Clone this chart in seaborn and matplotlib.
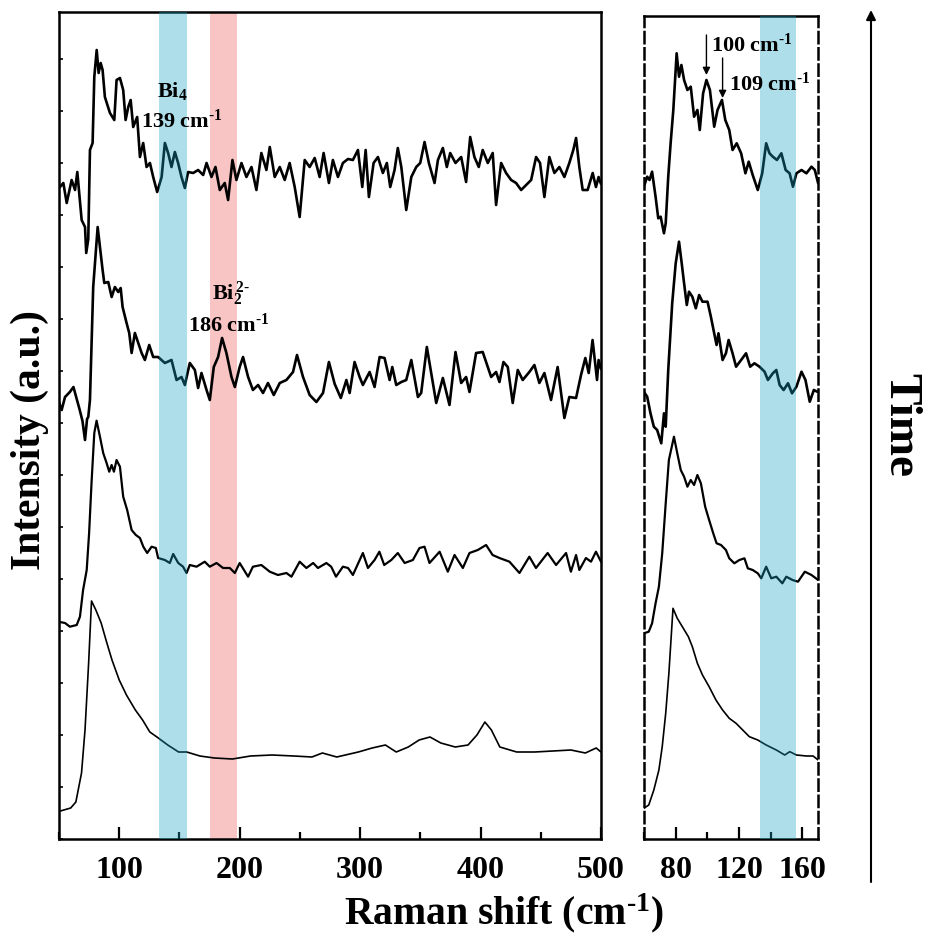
import numpy as np
import pandas as pd
import matplotlib
matplotlib.use("Agg")
import matplotlib.pyplot as plt
from matplotlib.ticker import MultipleLocator, NullFormatter
import seaborn as sns

# ---------------- data: Raman spectra (stacked, intensity in a.u.) ----------------
# full range spectra, bottom (earliest) to top (latest)
s4_x = [49, 54, 59.7, 64, 68.7, 71.6, 74.6, 77, 80.6, 85, 89.5, 94, 100, 106, 113.4, 119.4, 125.4,
        131.3, 140.3, 149.3, 156, 167, 179, 194, 209, 227, 245, 260, 268.7, 280.6, 298.5, 310, 321,
        330, 340, 349, 358, 367, 379, 389.6, 397, 403.6, 409, 416, 430, 445, 460, 475, 487, 496, 500]
s4_y = [27.3, 29, 31, 37, 66, 109, 176, 238, 229, 216, 197, 179, 159, 144, 129, 119, 107,
        102, 94, 87, 87, 83, 81, 80, 83, 84, 83, 82, 86, 82, 87, 91, 94,
        87, 92, 99, 102, 96, 92, 94, 104, 117, 109, 92, 87, 87, 88, 89, 86, 91, 87]

s3_x = [49.4, 55, 59, 64.7, 67.4, 70, 73, 75, 77, 79.3, 81.2, 84, 86.7, 89.5, 91.7, 93.7, 95.6, 97.8,
        100.6, 103.3, 106.6, 110.3, 113.8, 117.2, 120, 123.2, 126.9, 130.4, 132.3, 137.9, 142, 144.8,
        149, 153, 155.9, 158.6, 164.2, 171, 175.2, 180.8, 186.2, 191.8, 196, 200, 207, 211, 218, 225,
        231.8, 238.8, 243, 249.8, 255.4, 261, 265, 272, 276, 280, 285.7, 290, 294, 302.3, 306.5, 312,
        316, 320, 325.9, 331.3, 337, 343.8, 349.3, 353.5, 357.6, 366, 372.8, 378.4, 385.3, 390.8,
        397.7, 404.6, 410, 415.7, 424, 432.3, 440.5, 446, 455.7, 462.7, 471, 475, 479.3, 482, 487.5,
        491.7, 495.8, 500]
s3_y = [217.3, 216, 212.3, 214, 222.3, 249, 269, 306, 356, 406, 418.3, 402.3, 386, 376, 367.3, 374, 367.3, 379,
        372.3, 342.3, 329, 309, 304, 301, 292.3, 286, 292.3, 291, 281, 279, 276, 285,
        276, 272.3, 266, 274, 272.3, 277.3, 272.3, 276, 271, 271, 266, 276, 262.3, 272.3, 274, 267.3,
        264, 266, 262.3, 277.3, 271, 276, 271, 276, 272.3, 262.3, 272.3, 271, 264, 286, 271, 279,
        287.3, 274, 279, 286, 276, 279, 291, 292.3, 276, 287.3, 267.3, 284, 271, 286,
        289, 294, 284, 281, 277.3, 266, 282.3, 271, 286, 274, 286, 267.3, 284, 269, 281,
        277.3, 287.3, 277.3]

s2_x = [49.4, 52.2, 55, 59, 62, 64.7, 67, 69.5, 71.6, 73.3, 74.3, 75.7, 78.4, 82.1, 84, 86.2, 87.6,
        90.9, 93.7, 96.4, 99.2, 101.2, 102.8, 106.1, 108.3, 110.3, 113, 115.8, 118.6, 121.3, 124.9,
        128.2, 132.3, 137.9, 143.4, 147.6, 151.7, 154.5, 158.6, 162.8, 165.5, 168.3, 172.5, 175.2,
        178.5, 182.1, 185.4, 189, 193.2, 196, 200, 202.8, 207, 211, 215.3, 219.4, 223.5, 228.3, 233.3,
        238.8, 244.3, 247.6, 252.6, 258.1, 263.7, 269.2, 274.1, 278.9, 284, 288.6, 291.3, 295.4, 299.6,
        302.3, 307.9, 312, 316.2, 320.3, 324.5, 326.7, 330, 334.2, 338.3, 342.5, 348, 350.7, 355.4,
        363.2, 368.7, 374.2, 379.2, 383.9, 388, 390.8, 396.3, 401.8, 408.8, 412.9, 415.7, 419, 422.6,
        426.7, 430.9, 435, 440.5, 444.7, 448.8, 453, 458.5, 464, 469.6, 473.7, 479.3, 483.4, 487,
        489.8, 493, 496.7, 498, 500]
s2_y = [439, 429, 442, 447, 452, 440, 430, 418, 399, 420, 422, 439, 552, 612, 592, 569, 556,
        557, 542, 552, 547, 551, 532, 516, 506, 486, 506, 496, 486, 479, 494,
        482, 482, 476, 479, 459, 462, 454, 476, 469, 451, 466, 449, 439,
        472, 482, 501, 486, 462, 452, 472, 482, 462, 449, 454, 446, 456, 444, 456,
        459, 467, 484, 462, 444, 437, 446, 477, 455, 441, 459, 446, 477, 462,
        454, 467, 452, 482, 481, 459, 472, 454, 457, 459, 479, 442, 446, 492,
        436, 461, 434, 487, 456, 462, 447, 486, 487, 462, 467, 457, 477, 472,
        436, 469, 459, 467, 474, 456, 466, 439, 472, 421, 442, 441, 464, 481,
        466, 499, 459, 479, 470]

s1_x = [50.8, 53.6, 56.4, 60.5, 63.3, 65.2, 68.8, 71.6, 72.6, 74.3, 75.7, 77.9, 79.3, 81.3, 82.9, 84.6,
        86.2, 88.1, 92.3, 95.9, 97.8, 100.6, 103.3, 105.3, 107.5, 109.5, 111.6, 114.9, 117.2, 119.9,
        122.7, 125.5, 128.2, 131.5, 135.2, 137.9, 140.6, 143.4, 146.2, 148.9, 151.7, 154.5, 157.2,
        161.4, 165.5, 169.7, 172.5, 176.6, 179.9, 183.5, 187.6, 190.4, 194, 197.3, 201.5, 205.6, 209.8,
        213.9, 218, 222.2, 225, 229.1, 233.3, 237.4, 241.5, 245.7, 249.8, 254, 258.1, 262.3, 266.4,
        269.7, 274.1, 277.4, 281.6, 285.7, 289.9, 294, 298.2, 301.8, 304.6, 307.3, 311.2, 314.8, 318.9,
        322.2, 325, 328.6, 331.3, 334.2, 338.3, 342.5, 346.6, 349.9, 353.5, 357.1, 361.8, 364.6, 368.7,
        372, 374.8, 379.2, 383.9, 388, 391.4, 394.9, 398.5, 401.8, 406, 410.1, 412.9, 417.1, 421.2,
        425.4, 429.5, 433.7, 437.8, 442, 446.1, 449.4, 453, 457.1, 461.3, 465.4, 469.6, 473.7, 477,
        479.3, 482, 484.8, 488.9, 493.1, 495.8, 498, 500]
s1_y = [652, 656, 636, 659, 649, 667, 619, 612, 586, 600, 689, 696, 762, 789, 766, 776,
        769, 742, 726, 719, 759, 761, 749, 719, 732, 739, 712, 722, 682, 696,
        672, 676, 662, 647, 662, 696, 686, 672, 687, 676, 662, 651, 667,
        666, 669, 664, 676, 662, 672, 649, 656, 639, 679, 659, 676, 662, 672,
        649, 686, 669, 692, 662, 672, 659, 676, 652, 622, 679, 672, 681, 662,
        686, 656, 679, 662, 676, 680, 679, 689, 652, 689, 642, 676, 682, 666,
        676, 652, 669, 691, 672, 629, 662, 672, 676, 697, 676, 656, 679, 691,
        672, 686, 676, 682, 657, 702, 682, 672, 689, 676, 686, 634, 676, 666,
        659, 656, 649, 654, 659, 682, 676, 642, 682, 666, 672, 662, 676, 689,
        701, 672, 649, 649, 666, 652, 662, 655]

# low-frequency detail (60-170 cm-1), bottom to top
r4_x = [59.9, 63, 66.2, 69.4, 71.5, 73.7, 75.7, 78.3, 81, 84.2, 88, 90.5, 93.7, 96.9, 101.1, 105.4,
        109.6, 113.8, 118.1, 122.3, 126.5, 131.8, 137.1, 143.5, 148.8, 152, 156.2, 162.5, 166.7, 169.9]
r4_y = [30.7, 34, 49, 69, 92.3, 125.7, 165.7, 230.7, 220.7, 212.3, 202.3, 192.3, 175.7, 164, 152.3, 139,
        129, 120.7, 115.7, 109, 102.3, 99, 94, 89, 84, 87.3, 84, 83, 83, 79]

r3_x = [59.9, 63, 65.1, 67.3, 69.4, 71.5, 73.7, 75.7, 78.9, 81, 83.2, 85.3, 87.4, 89.5, 91.6, 93.7,
        95.9, 98.6, 101.1, 103.7, 105.8, 108.6, 111.7, 113.8, 117, 120.2, 123.4, 125.5, 128.6, 131.8,
        134, 137.1, 140.3, 143.5, 147.3, 149.8, 153.7, 157.2, 161.5, 165.7, 169.9]
r3_y = [205.7, 207.3, 215.7, 235.7, 252.3, 285.7, 335.7, 379, 402.3, 385.7, 369, 362.3, 352.3, 359, 354, 364,
        355.7, 332.3, 319, 305.7, 295.7, 294, 289, 280.7, 275.7, 279, 280.7, 270.7, 269, 265.7,
        260.7, 272.3, 260.7, 262.3, 255.7, 262.3, 259, 257.3, 267.3, 264, 259]

r2_x = [59.9, 62, 64.1, 66.2, 68.3, 70.9, 72.6, 73.7, 75.3, 77.8, 80, 82.1, 83.8, 85.3, 87, 88.4, 90.5,
        92.7, 94.8, 96.9, 100.1, 102.2, 104.3, 105.8, 107, 109.6, 111.7, 113.4, 115.9, 118.1, 121.3,
        124.4, 127, 129.7, 132.9, 136.1, 138.2, 141.3, 143.5, 145.6, 148.1, 150.9, 153.4, 156.2,
        159.4, 161.9, 164.6, 167.2, 169.3]
r2_y = [447.3, 442.3, 425.7, 412.3, 409, 395.7, 425.7, 412.3, 469, 535.7, 575.7, 597.3, 575.7, 555.7, 534,
        547.3, 542.3, 530.7, 544, 537.3, 537.3, 522.3, 505.7, 494, 505.7, 479, 485.7, 499, 485.7, 472.3,
        479, 485.7, 472.3, 475.7, 472.3, 467.3, 459, 465.7, 469, 454, 449, 455.7, 445.7, 452.3,
        467.3, 459, 437.3, 449, 447.3]

r1_x = [59.9, 62, 63.5, 65.1, 67.3, 69, 70.5, 72.6, 73.7, 75.3, 76.8, 78.5, 80.6, 82.1, 83.6, 85.3,
        87.4, 89.5, 91.6, 93.7, 95.2, 97.3, 99.4, 101.6, 104.3, 106.4, 109.2, 111.3, 113.8, 115.9,
        118.5, 121.3, 124, 126.1, 128.6, 131.8, 134.6, 137.1, 139.2, 141.3, 143.9, 146.7, 149.4,
        151.9, 154, 156.2, 159.4, 162.5, 165.7, 167.8, 169.9]
r1_y = [652.3, 662.3, 659, 667.3, 642.3, 620.7, 622.3, 605.7, 615.7, 662.3, 695.7, 729, 785.7, 762.3, 774,
        759, 749, 752.3, 722.3, 729, 709, 745.7, 759, 749, 712.3, 729, 739, 719, 709, 689,
        695.7, 685.7, 665.7, 677.3, 664, 649, 665.7, 695.7, 685.7, 682.3, 679, 685.7, 669,
        665.7, 652.3, 665.7, 669, 665.7, 672.3, 669, 655.7]

# marked bands (cm-1)
bi4_band = (133, 156)
bi2_band = (175, 198)

# tick values
left_major = [100, 200, 300, 400, 500]
right_major = [80, 120, 160]

# ---------------- style ----------------
sns.set_theme(style="white")
plt.rcParams["font.family"] = ["Liberation Serif", "DejaVu Serif"]
plt.rcParams["font.weight"] = "bold"
plt.rcParams["text.color"] = "black"
plt.rcParams["axes.labelcolor"] = "black"
plt.rcParams["xtick.color"] = "black"
plt.rcParams["ytick.color"] = "black"
plt.rcParams["mathtext.fontset"] = "custom"
plt.rcParams["mathtext.rm"] = "Liberation Serif:bold"
plt.rcParams["mathtext.bf"] = "Liberation Serif:bold"
plt.rcParams["mathtext.it"] = "Liberation Serif:bold"
plt.rcParams["mathtext.default"] = "bf"

W, H = 925, 942
fig = plt.figure(figsize=(W / 100, H / 100), dpi=100)
ax1 = fig.add_axes([59 / W, 103 / H, 542 / W, 827 / H])
ax2 = fig.add_axes([644 / W, 103 / H, 174.3 / W, 823 / H])

blue = "#15a1c3"
pink = "#f8c4c4"
lw_main = 1.9

def draw(ax, xs, ys, lw):
    df = pd.DataFrame({"x": xs, "y": ys})
    sns.lineplot(data=df, x="x", y="y", ax=ax, color="black", lw=lw,
                 estimator=None, sort=False, legend=False)

# left panel
for xs, ys, lw in [(s4_x, s4_y, 1.2), (s3_x, s3_y, 1.6), (s2_x, s2_y, lw_main), (s1_x, s1_y, lw_main)]:
    draw(ax1, xs, ys, lw)
ax1.axvspan(*bi2_band, color=pink, zorder=0, lw=0)
ax1.axvspan(*bi4_band, color=blue, alpha=0.35, zorder=5, lw=0)
ax1.set_xlim(50, 500)
ax1.set_ylim(0, 827)
ax1.xaxis.set_minor_locator(MultipleLocator(50))
ax1.yaxis.set_major_locator(MultipleLocator(104))
ax1.yaxis.set_minor_locator(MultipleLocator(52))
ax1.yaxis.set_major_formatter(NullFormatter())

# right panel
for xs, ys, lw in [(r4_x, r4_y, 1.2), (r3_x, r3_y, 1.6), (r2_x, r2_y, lw_main), (r1_x, r1_y, lw_main)]:
    draw(ax2, xs, ys, lw)
ax2.axvspan(*bi4_band, color=blue, alpha=0.35, zorder=5, lw=0)
ax2.set_xlim(60, 170)
ax2.set_ylim(0, 823)
ax2.xaxis.set_minor_locator(MultipleLocator(20))
ax2.set_yticks([])

ax1.set_xticks(left_major)
ax2.set_xticks(right_major)
for ax in (ax1, ax2):
    ax.set_xlabel("")
    ax.set_ylabel("")
    for sp in ax.spines.values():
        sp.set_linewidth(1.8)
        sp.set_color("black")
    ax.tick_params(axis="x", which="major", direction="in", length=9, width=1.6,
                   labelsize=23, pad=12, bottom=True, top=False)
    ax.tick_params(axis="x", which="minor", direction="in", length=5, width=1.6,
                   bottom=True, top=False)
    for lab in ax.get_xticklabels():
        lab.set_fontweight("bold")
ax1.tick_params(axis="y", which="both", direction="in", length=3, width=1.2, left=True, right=False)
for side in ("left", "right"):
    ax2.spines[side].set_linestyle((0, (4.5, 2)))

# annotations
sup = r"$^{\text{-}1}$"
ax1.text(144.5, 748, r"Bi$_4$", ha="center", va="center", fontsize=16, fontweight="bold", zorder=6)
ax1.text(152.4, 718, "139 cm" + sup, ha="center", va="center", fontsize=16, fontweight="bold", zorder=6)
ax1.text(192.5, 545, r"Bi$_2^{\,2\text{-}}$", ha="center", va="center", fontsize=16, fontweight="bold", zorder=6)
ax1.text(191.4, 514, "186 cm" + sup, ha="center", va="center", fontsize=16, fontweight="bold", zorder=6)

arrow_kw = dict(arrowstyle="-|>", color="black", lw=1.0, mutation_scale=11, shrinkA=0, shrinkB=0)
ax2.annotate("", xy=(99.4, 764), xytext=(99.4, 804), arrowprops=arrow_kw)
ax2.annotate("", xy=(109.6, 741), xytext=(109.6, 781), arrowprops=arrow_kw)
ax2.text(102.2, 794, "100 cm" + sup, ha="left", va="center", fontsize=16, fontweight="bold", zorder=6)
ax2.text(113.8, 755, "109 cm" + sup, ha="left", va="center", fontsize=16, fontweight="bold", zorder=6)

# axis titles and time arrow
fig.text(504 / W, 1 - 913 / H, "Raman shift (cm" + sup + ")", ha="center", va="center",
         fontsize=28.5, fontweight="bold")
fig.text(30 / W, 1 - 440 / H, "Intensity (a.u.)", ha="center", va="center", rotation=90,
         fontsize=30, fontweight="bold")
fig.text(900 / W, 1 - 425 / H, "Time", ha="center", va="center", rotation=270,
         fontsize=34, fontweight="bold")
fig.add_artist(matplotlib.patches.FancyArrowPatch(
    (871 / W, 1 - 882 / H), (871 / W, 1 - 10 / H), transform=fig.transFigure,
    arrowstyle="-|>", mutation_scale=14, color="black", lw=1.5, shrinkA=0, shrinkB=0))

fig.savefig("out.png", dpi=100)
